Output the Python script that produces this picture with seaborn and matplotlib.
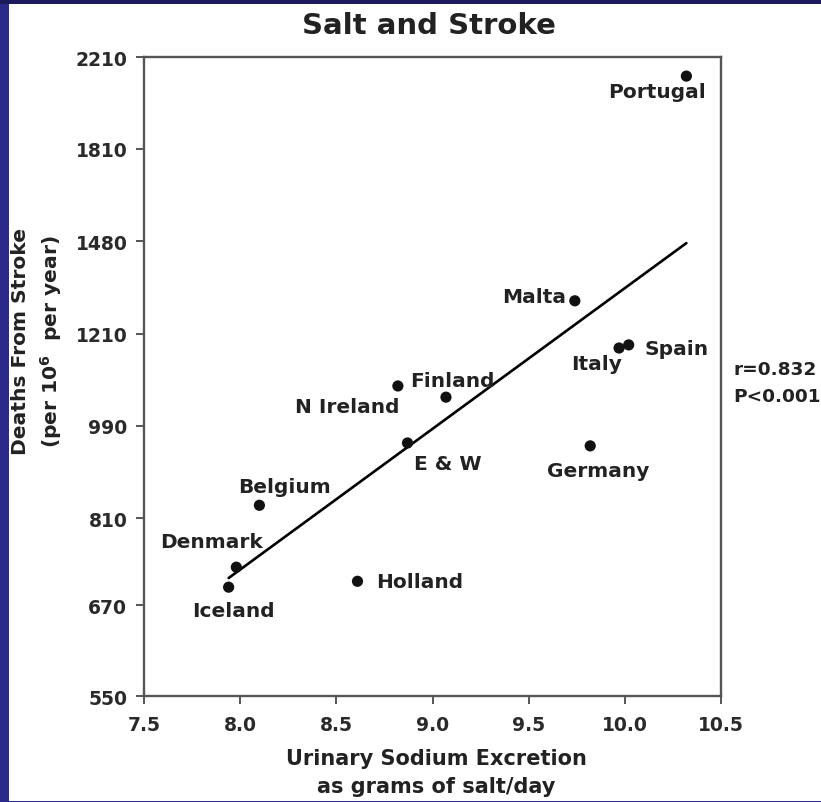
import matplotlib
matplotlib.use("Agg")
import matplotlib.pyplot as plt
import seaborn as sns
import pandas as pd
from matplotlib.patches import Rectangle
from matplotlib.ticker import FixedLocator, NullLocator

# ---- data ----
countries = ["Portugal", "Malta", "Spain", "Italy", "Finland", "N Ireland",
             "E & W", "Germany", "Belgium", "Denmark", "Iceland", "Holland"]
salt = [10.32, 9.74, 10.02, 9.97, 9.07, 8.82, 8.87, 9.82, 8.10, 7.98, 7.94, 8.61]
deaths = [2120, 1300, 1181, 1173, 1054, 1080, 954, 948, 833, 728, 697, 706]
label_offsets = [(-29, -21), (-41, -1), (48, -9), (-23, -21), (6, 11), (-51, -26),
                 (40, -26), (8, -30), (25, 13), (-25, 20), (5, -29), (62, -6)]
fit_x = [7.94, 10.32]
fit_y = [711, 1474]
y_ticks = [550, 670, 810, 990, 1210, 1480, 1810, 2210]
x_ticks = [7.5, 8.0, 8.5, 9.0, 9.5, 10.0, 10.5]

df = pd.DataFrame({"country": countries, "salt": salt, "deaths": deaths})
fit_df = pd.DataFrame({"salt": fit_x, "deaths": fit_y})

sns.set_theme(style="white")
plt.rcParams["font.family"] = ["DejaVu Sans"]
plt.rcParams["font.weight"] = "bold"
plt.rcParams["mathtext.default"] = "bf"
plt.rcParams["mathtext.fontset"] = "dejavusans"

W, H = 821, 803
fig = plt.figure(figsize=(W / 100, H / 100), dpi=100)
fig.patch.set_facecolor("#2a2a88")
# dark top strip and white panel
fig.patches.append(Rectangle((0, 1 - 5 / H), 1, 5 / H, transform=fig.transFigure,
                             facecolor="#1c1a5c", edgecolor="none", zorder=-5))
fig.patches.append(Rectangle((9 / W, 1 / H), 1 - 9 / W, (802 - 5) / H,
                             transform=fig.transFigure, facecolor="white",
                             edgecolor="none", zorder=-4))

ax = fig.add_axes([144 / W, (H - 697) / H, (721 - 144) / W, (697 - 58) / H])
ax.set_facecolor("white")
ax.patch.set_alpha(0)
ax.set_yscale("log")

sns.lineplot(data=fit_df, x="salt", y="deaths", ax=ax, color="black",
             linewidth=1.9, zorder=2)
sns.scatterplot(data=df, x="salt", y="deaths", ax=ax, color="#111111",
                s=65, edgecolor="none", zorder=3)

txtc = "#222222"
for c, xv, yv, off in zip(countries, salt, deaths, label_offsets):
    ax.annotate(c, (xv, yv), xytext=off, textcoords="offset pixels",
                ha="center", va="baseline", fontsize=14.5, fontweight="bold",
                color=txtc)

ax.set_xlim(7.5, 10.5)
ax.set_ylim(550, 2210)
ax.yaxis.set_major_locator(FixedLocator(y_ticks))
ax.yaxis.set_minor_locator(NullLocator())
ax.set_yticks(y_ticks)
ax.set_yticklabels([str(t) for t in y_ticks])
ax.set_xticks(x_ticks)
ax.set_xticklabels([f"{t:.1f}" for t in x_ticks])

for sp in ax.spines.values():
    sp.set_color("#555555")
    sp.set_linewidth(1.7)
ax.tick_params(axis="both", which="major", direction="out", length=6,
               width=1.4, color="#555555", labelsize=13.5, labelcolor="#2a2a2a",
               left=True, bottom=True)
ax.tick_params(axis="x", pad=8)
ax.tick_params(axis="y", pad=6)
for lab in ax.get_xticklabels() + ax.get_yticklabels():
    lab.set_fontweight("bold")

ax.set_xlabel("Urinary Sodium Excretion\nas grams of salt/day", fontsize=15,
              fontweight="bold", color=txtc, linespacing=1.5)
ax.xaxis.set_label_coords((436 - 144) / 577, (697 - 749) / 639)
ax.set_ylabel("Deaths From Stroke\n(per 10$^{6}$  per year)", fontsize=14.6,
              fontweight="bold", color=txtc, linespacing=1.4)
ax.yaxis.set_label_coords((64 - 144) / 577, (697 - 342) / 639)

fig.text(429 / W, 1 - 34 / H, "Salt and Stroke", ha="center", va="baseline",
         fontsize=21, fontweight="bold", color=txtc)
fig.text(733 / W, 1 - 375 / H, "r=0.832", ha="left", va="baseline",
         fontsize=13.3, fontweight="bold", color=txtc)
fig.text(733 / W, 1 - 402 / H, "P<0.001", ha="left", va="baseline",
         fontsize=13.3, fontweight="bold", color=txtc)

fig.savefig("out.png", dpi=100, facecolor=fig.get_facecolor())
